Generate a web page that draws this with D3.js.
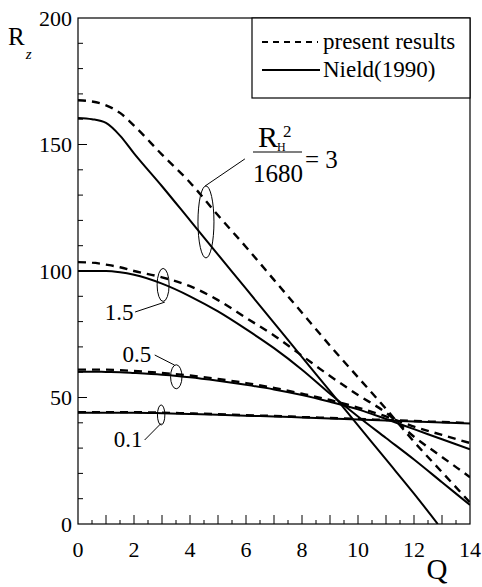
<!DOCTYPE html>
<html>
<head>
<meta charset="utf-8">
<script src="https://cdn.jsdelivr.net/npm/d3@7/dist/d3.min.js"></script>
<style>
  body { margin: 0; background: #fff; }
</style>
</head>
<body>
<div id="chart"></div>
<script>
// Q grid shared by most curves
const qGrid = [0, 0.5, 1, 1.5, 2, 3, 4, 5, 6, 7, 8, 9, 10, 11, 12, 13, 14];

// present results (dashed)
const present3   = [167.5, 167, 165.5, 162.5, 157.5, 146, 135, 122, 109.5, 96.5, 83.5, 70.5, 58, 45.5, 32.5, 20.5, 8.5];
const present15  = [103.5, 103.3, 102.5, 101.5, 100, 97.5, 94, 88.5, 81.5, 74.5, 66.5, 58.5, 51, 44, 34.5, 26.5, 18.5];
const present05  = [61, 61, 61, 60.8, 60.5, 59.7, 58.7, 57.3, 55.7, 53.8, 51.5, 49, 46, 42.5, 38.5, 35.2, 32];
const present01  = [44.2, 44.2, 44.2, 44.2, 44.2, 44, 43.7, 43.4, 43, 42.7, 42.3, 41.9, 41.5, 41.1, 40.7, 40.3, 39.9];

// Nield (1990) (solid)
const nieldQ3    = [0, 0.5, 1, 1.5, 2, 3, 4, 5, 6, 7, 8, 9, 10, 11, 12, 12.85];
const nield3     = [160.5, 160, 158.5, 153.5, 146.5, 133.5, 120, 106.5, 93, 79.5, 66, 52.5, 39, 25.5, 12, 0];
const nield15    = [100, 100, 100, 99.5, 98.5, 95, 90, 84, 77, 69.5, 61, 51.5, 42.5, 34, 25.5, 16.5, 7.5];
const nield05    = [60.2, 60.2, 60.1, 60, 59.7, 59, 58, 56.6, 55, 53.2, 51, 48.3, 45.3, 41.5, 37.5, 33.5, 29.5];
const nield01    = [44, 44, 44, 44, 44, 43.8, 43.5, 43.2, 42.8, 42.5, 42.1, 41.7, 41.3, 40.9, 40.5, 40.1, 39.7];

const xTickLabels = [0, 2, 4, 6, 8, 10, 12, 14];
const yTickLabels = [0, 50, 100, 150, 200];

// annotations: ellipse centre (Q, R), leader end points, label
const groupMarks = [
  { cq: 4.57, cr: 119.4, rx: 8,   ry: 36,   from: [4.54, 133.6], to: [5.96, 144.3], label: null },
  { cq: 3.04, cr: 94.5,  rx: 6,   ry: 16.5, from: [3.1, 87.7],   to: [2.04, 83.8],  label: "1.5", lq: 1.98, lr: 80.6 },
  { cq: 3.51, cr: 58.2,  rx: 5.7, ry: 12,   from: [3.45, 62.8],  to: [2.74, 66.8],  label: "0.5", lq: 2.62, lr: 64 },
  { cq: 2.97, cr: 43.1,  rx: 3.7, ry: 10,   from: [2.97, 39.8],  to: [2.38, 33.2],  label: "0.1", lq: 2.3,  lr: 30.4 }
];

const width = 482, height = 587;
const margin = { top: 18, right: 12, bottom: 63, left: 78 };
const serif = "Liberation Serif, DejaVu Serif, serif";

const svg = d3.select("#chart").append("svg")
  .attr("width", width)
  .attr("height", height)
  .attr("font-family", serif)
  .style("display", "block");

const x = d3.scaleLinear().domain([0, 14]).range([margin.left, width - margin.right]);
const y = d3.scaleLinear().domain([0, 200]).range([height - margin.bottom, margin.top]);

svg.append("clipPath").attr("id", "plot-clip")
  .append("rect")
  .attr("x", x(0)).attr("y", y(200))
  .attr("width", x(14) - x(0)).attr("height", y(0) - y(200));

// curves
const line = d3.line()
  .x(d => x(d[0]))
  .y(d => y(d[1]))
  .curve(d3.curveMonotoneX);

const series = [
  { q: qGrid,   r: present3,  dashed: true },
  { q: qGrid,   r: present15, dashed: true },
  { q: qGrid,   r: present05, dashed: true },
  { q: qGrid,   r: present01, dashed: true },
  { q: nieldQ3, r: nield3,    dashed: false },
  { q: qGrid,   r: nield15,   dashed: false },
  { q: qGrid,   r: nield05,   dashed: false },
  { q: qGrid,   r: nield01,   dashed: false }
];

const curves = svg.append("g").attr("clip-path", "url(#plot-clip)");
series.forEach(s => {
  curves.append("path")
    .datum(s.q.map((q, i) => [q, s.r[i]]))
    .attr("d", line)
    .attr("fill", "none")
    .attr("stroke", "#000")
    .attr("stroke-width", s.dashed ? 2.4 : 2)
    .attr("stroke-dasharray", s.dashed ? "8,6" : null);
});

// frame
svg.append("rect")
  .attr("x", x(0)).attr("y", y(200))
  .attr("width", x(14) - x(0)).attr("height", y(0) - y(200))
  .attr("fill", "none").attr("stroke", "#000").attr("stroke-width", 1.2);

// x ticks (inward), every 0.5
const ticks = svg.append("g").attr("stroke", "#000").attr("stroke-width", 1);
d3.range(0.5, 14, 0.5).forEach(v => {
  const len = Number.isInteger(v) ? 9 : 4;
  ticks.append("line")
    .attr("x1", x(v)).attr("x2", x(v))
    .attr("y1", y(0)).attr("y2", y(0) - len);
});
// y ticks (inward), every 10
d3.range(10, 200, 10).forEach(v => {
  const len = v % 50 === 0 ? 9 : 5;
  ticks.append("line")
    .attr("x1", x(0)).attr("x2", x(0) + len)
    .attr("y1", y(v)).attr("y2", y(v));
});

// tick labels
svg.append("g").selectAll("text").data(xTickLabels).join("text")
  .attr("x", d => x(d))
  .attr("y", y(0) + 33)
  .attr("text-anchor", "middle")
  .attr("font-size", 22)
  .text(d => d);

svg.append("g").selectAll("text").data(yTickLabels).join("text")
  .attr("x", x(0) - 6)
  .attr("y", d => y(d))
  .attr("dy", "0.35em")
  .attr("text-anchor", "end")
  .attr("font-size", 22)
  .text(d => d);

// axis titles
const rz = svg.append("text").attr("x", 8).attr("y", 45).attr("font-size", 25);
rz.append("tspan").text("R");
rz.append("tspan").attr("dx", 1).attr("dy", 14).attr("font-size", 15).attr("font-style", "italic").text("z");

svg.append("text")
  .attr("x", 437).attr("y", 579)
  .attr("text-anchor", "middle")
  .attr("font-size", 29)
  .text("Q");

// legend
const legend = svg.append("g");
legend.append("rect")
  .attr("x", 252).attr("y", y(200))
  .attr("width", x(14) - 252).attr("height", 80)
  .attr("fill", "#fff").attr("stroke", "#000").attr("stroke-width", 1.2);
legend.append("line")
  .attr("x1", 262).attr("x2", 318).attr("y1", 42).attr("y2", 42)
  .attr("stroke", "#000").attr("stroke-width", 2).attr("stroke-dasharray", "6,5");
legend.append("text").attr("x", 323).attr("y", 49).attr("font-size", 23).text("present results");
legend.append("line")
  .attr("x1", 262).attr("x2", 320).attr("y1", 70).attr("y2", 70)
  .attr("stroke", "#000").attr("stroke-width", 2);
legend.append("text").attr("x", 323).attr("y", 77).attr("font-size", 23).text("Nield(1990)");

// group annotations
const ann = svg.append("g");
groupMarks.forEach(g => {
  ann.append("ellipse")
    .attr("cx", x(g.cq)).attr("cy", y(g.cr))
    .attr("rx", g.rx).attr("ry", g.ry)
    .attr("fill", "none").attr("stroke", "#000").attr("stroke-width", 1);
  ann.append("line")
    .attr("x1", x(g.from[0])).attr("y1", y(g.from[1]))
    .attr("x2", x(g.to[0])).attr("y2", y(g.to[1]))
    .attr("stroke", "#000").attr("stroke-width", 1);
  if (g.label) {
    ann.append("text")
      .attr("x", x(g.lq)).attr("y", y(g.lr))
      .attr("text-anchor", "end")
      .attr("font-size", 23)
      .text(g.label);
  }
});

// R_H^2 / 1680 = 3
const frac = svg.append("g").attr("transform", "translate(253,152)");
frac.append("text").attr("x", 5).attr("y", -5).attr("font-size", 30).text("R");
frac.append("text").attr("x", 30).attr("y", -15).attr("font-size", 17).text("2");
frac.append("text").attr("x", 24).attr("y", -1).attr("font-size", 12).text("H");
frac.append("line")
  .attr("x1", 0).attr("x2", 49).attr("y1", 0).attr("y2", 0)
  .attr("stroke", "#000").attr("stroke-width", 1.2);
frac.append("text").attr("x", 0).attr("y", 30).attr("font-size", 25).text("1680");
frac.append("text").attr("x", 52).attr("y", 16).attr("font-size", 25).text("= 3");
</script>
</body>
</html>
